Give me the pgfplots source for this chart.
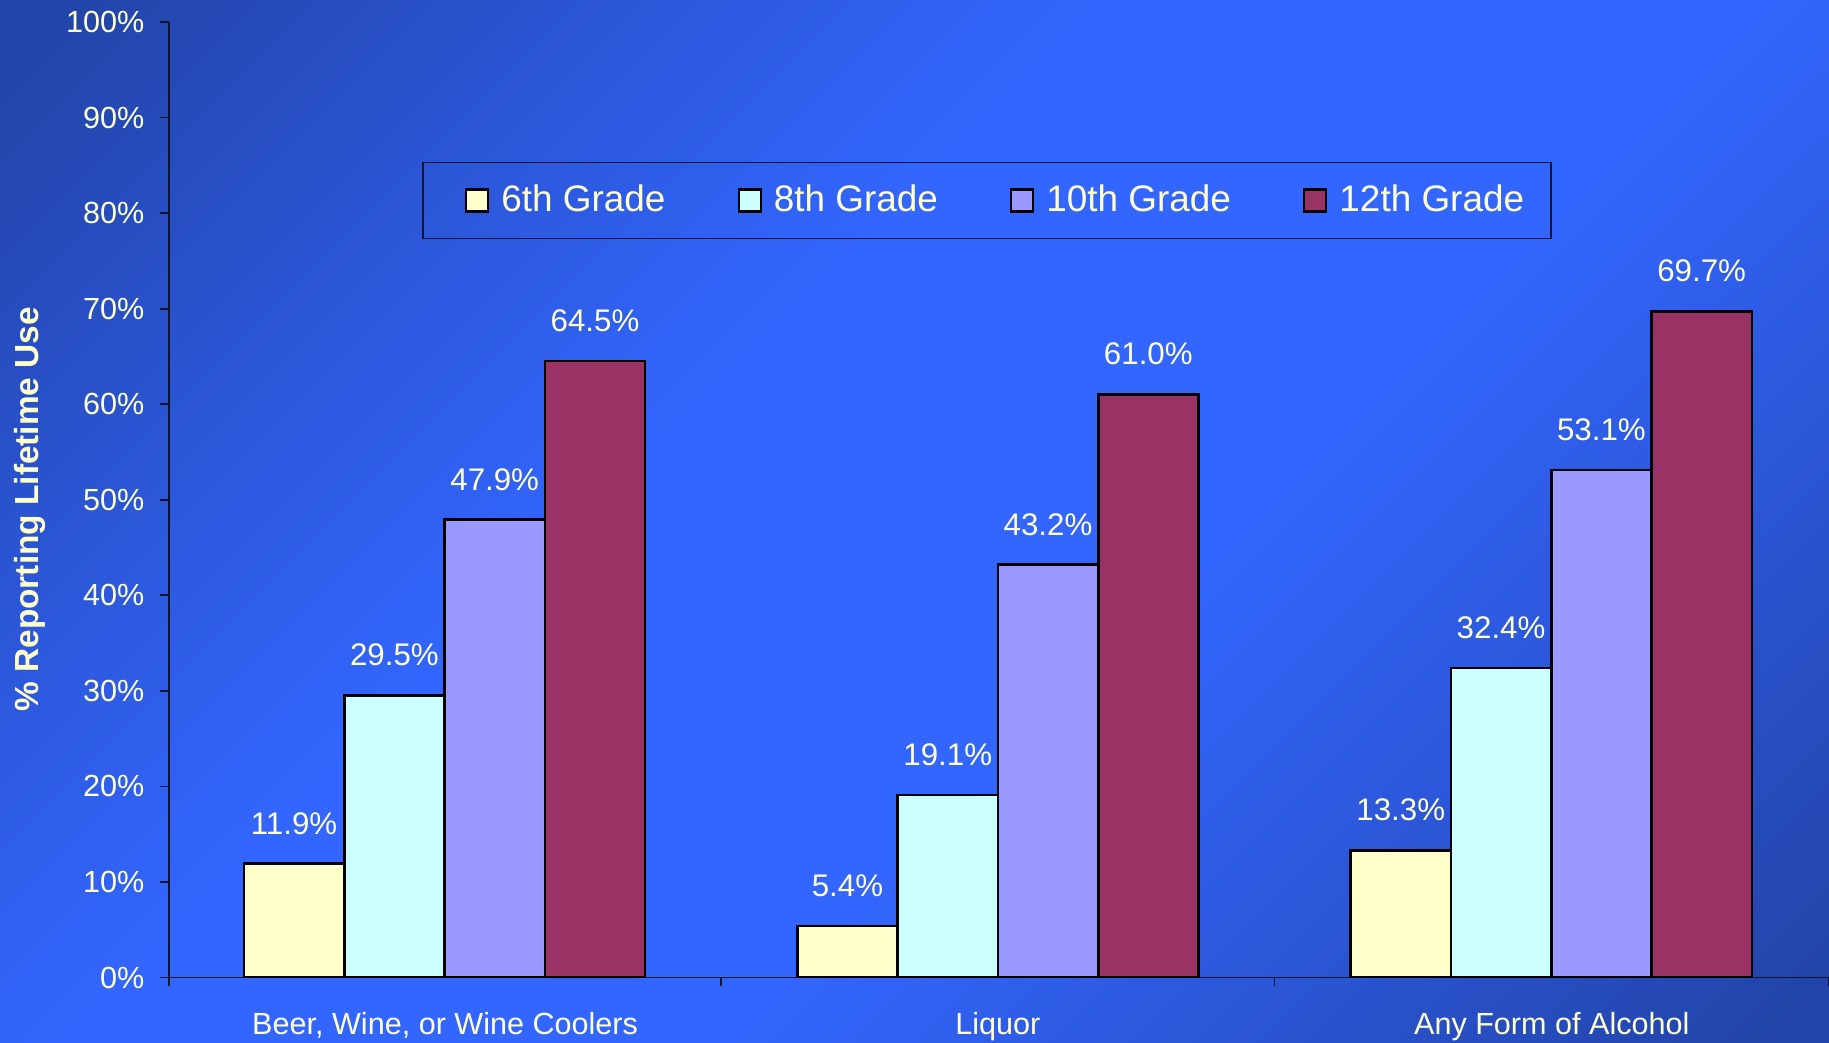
\documentclass[border=0pt]{standalone}
\usepackage{fontspec}
\setmainfont{Liberation Sans}
\usepackage{pgfplots}
\pgfplotsset{compat=1.18}
\definecolor{txt}{HTML}{FFFFCC}
\definecolor{gsix}{HTML}{FFFFCC}
\definecolor{geight}{HTML}{CCFFFF}
\definecolor{gten}{HTML}{9999FF}
\definecolor{gtwelve}{HTML}{993366}
\definecolor{bgdark}{HTML}{2244A8}
\definecolor{bgbright}{HTML}{3366FF}
\definecolor{axline}{HTML}{10142E}
\pgfdeclarehorizontalshading{bgshade}{100bp}{color(0bp)=(bgdark); color(16bp)=(bgdark); color(42bp)=(bgbright); color(58bp)=(bgbright); color(84bp)=(bgdark); color(100bp)=(bgdark)}
\begin{document}
\begin{tikzpicture}
\useasboundingbox (0,0) rectangle (182.9mm,104.3mm);
\shade[shading=bgshade, shading angle=-45] (0,0) rectangle (182.9mm,104.3mm);
\begin{axis}[
  at={(16.9mm,6.55mm)}, anchor=south west,
  scale only axis, width=166mm, height=95.55mm,
  ybar=0pt, bar width=10.03mm,
  xmin=-0.498, xmax=2.502, ymin=0, ymax=100,
  axis lines=left,
  axis line style={-, draw=axline, line width=0.5pt},
  xtick={-0.498,0.5,1.5,2.502},
  x tick label as interval,
  xticklabels={{Beer, Wine, or Wine Coolers},Liquor,{Any Form of Alcohol}},
  ytick={0,10,20,30,40,50,60,70,80,90,100},
  yticklabels={0\%,10\%,20\%,30\%,40\%,50\%,60\%,70\%,80\%,90\%,100\%},
  tick align=outside,
  major tick length=0.9mm,
  tick style={draw=axline, line width=0.5pt},
  tick label style={font=\fontsize{8.7}{10}\selectfont, text=txt},
  yticklabel style={inner sep=0pt, xshift=-1.5mm},
  xticklabel style={inner sep=0pt, yshift=-2.5mm},
  ylabel={\% Reporting Lifetime Use},
  ylabel style={at={(axis description cs:-0.0837,0.49)}, anchor=center, font=\bfseries\fontsize{9.5}{11}\selectfont, text=txt},
  nodes near coords={\pgfmathprintnumber[fixed,fixed zerofill,precision=1]{\pgfplotspointmeta}\%},
  every node near coord/.append style={font=\fontsize{8.9}{10}\selectfont, text=txt, inner sep=0pt, yshift=2.8mm},
  /pgf/number format/assume math mode=true,
  legend columns=4,
  legend style={at={(axis description cs:0.4928,0.8132)}, anchor=center,
    draw=axline, line width=0.5pt, fill=none, text=txt,
    font=\fontsize{10.5}{12}\selectfont,
    inner xsep=2.0mm, inner ysep=1.5mm,
    cells={inner xsep=0pt},
    /tikz/every odd column/.append style={column sep=0.5mm},
    /tikz/every even column/.append style={column sep=4.3mm}},
  legend image code/.code={\path (-2.2mm,0mm); \draw[#1, line width=0.6pt] (0mm,-1.1mm) rectangle (2.2mm,1.1mm);},
]
\addplot[fill=gsix, draw=black, line width=0.75pt] coordinates {(0,11.9) (1,5.4) (2,13.3)};
\addplot[fill=geight, draw=black, line width=0.75pt] coordinates {(0,29.5) (1,19.1) (2,32.4)};
\addplot[fill=gten, draw=black, line width=0.75pt] coordinates {(0,47.9) (1,43.2) (2,53.1)};
\addplot[fill=gtwelve, draw=black, line width=0.75pt] coordinates {(0,64.5) (1,61.0) (2,69.7)};
\legend{6th Grade,8th Grade,10th Grade,12th Grade}
\end{axis}
\end{tikzpicture}
\end{document}
